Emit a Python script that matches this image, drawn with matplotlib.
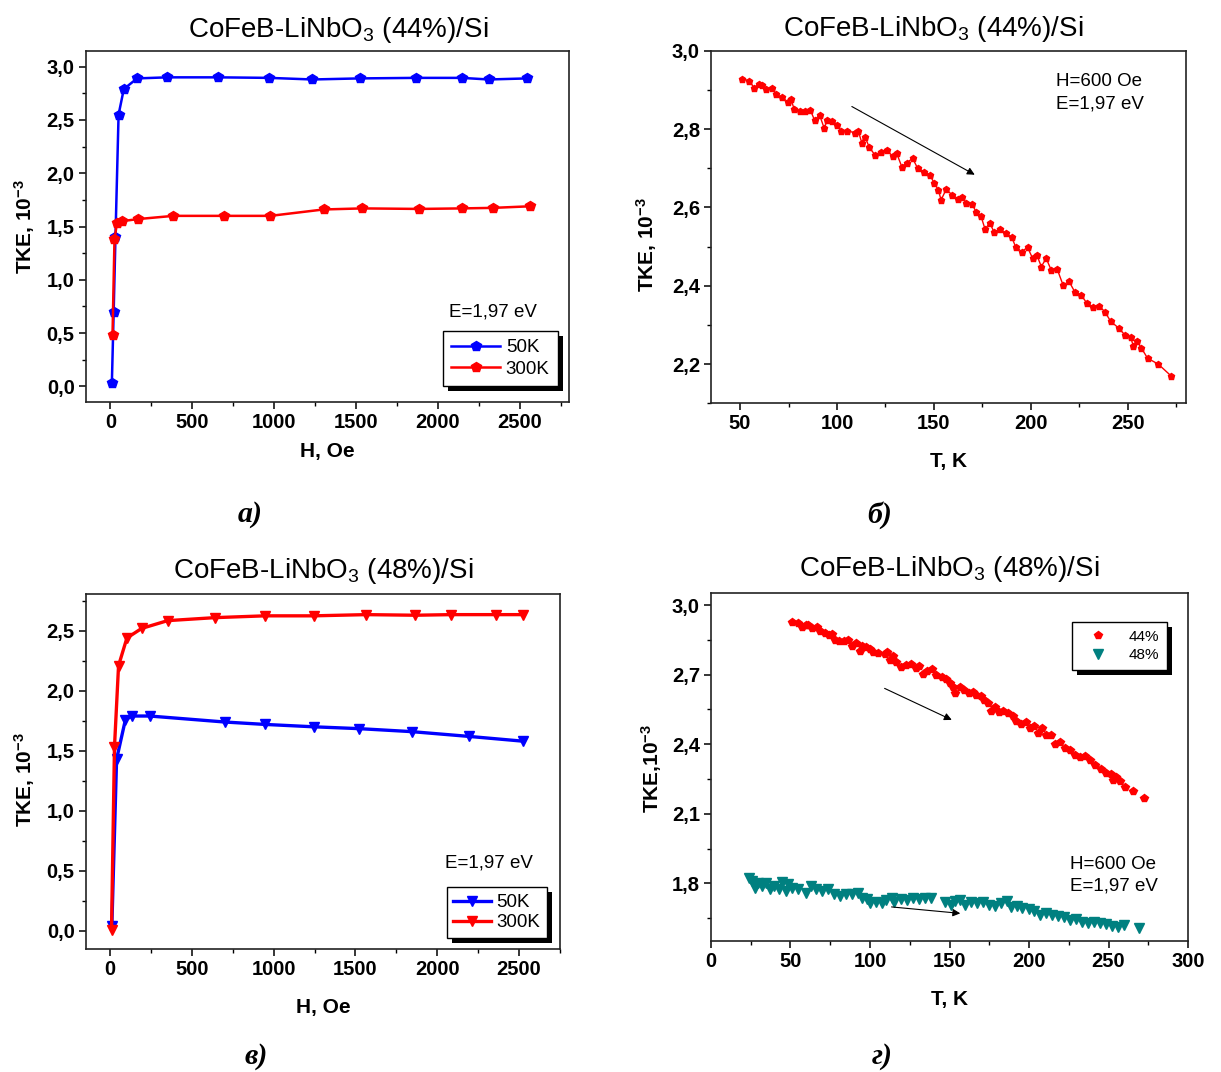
import matplotlib
matplotlib.use("Agg")
import matplotlib.pyplot as plt
from matplotlib.ticker import MultipleLocator, FuncFormatter
from matplotlib.patches import Rectangle
from matplotlib.lines import Line2D

plt.rcParams["font.family"] = ["Liberation Sans", "DejaVu Sans"]
plt.rcParams["mathtext.fontset"] = "custom"
plt.rcParams["mathtext.rm"] = "Liberation Sans"
plt.rcParams["mathtext.bf"] = "Liberation Sans:bold"
plt.rcParams["mathtext.it"] = "Liberation Sans:italic"

# --- panel a: 44%, TKE vs H ---
h_44_50k = [9, 20, 31, 50, 82, 163, 347, 660, 969, 1234, 1522, 1867, 2146, 2310, 2548]
tke_44_50k = [0.03, 0.70, 1.40, 2.55, 2.79, 2.89, 2.90, 2.90, 2.895, 2.88, 2.89, 2.895, 2.895, 2.88, 2.89]
h_44_300k = [13, 25, 40, 70, 170, 385, 692, 978, 1302, 1540, 1886, 2149, 2339, 2566]
tke_44_300k = [0.48, 1.38, 1.53, 1.55, 1.57, 1.60, 1.60, 1.60, 1.66, 1.67, 1.665, 1.67, 1.675, 1.69]

# --- panel c: 48%, TKE vs H ---
h_48_50k = [11, 40, 94, 135, 242, 702, 947, 1248, 1520, 1843, 2195, 2527]
tke_48_50k = [0.04, 1.43, 1.76, 1.79, 1.79, 1.74, 1.72, 1.70, 1.685, 1.66, 1.62, 1.58]
h_48_300k = [9, 27, 52, 103, 193, 352, 642, 947, 1244, 1565, 1867, 2085, 2357, 2527]
tke_48_300k = [0.01, 1.53, 2.21, 2.44, 2.52, 2.585, 2.61, 2.625, 2.625, 2.635, 2.63, 2.635, 2.635, 2.635]

# --- panels b, d: TKE vs T at H=600 Oe ---
t_44 = [50.8, 54.7, 57.2, 59.8, 61.2, 63.3, 66.4, 68.4, 71.5, 74.5, 76.2, 78.0, 80.7, 83.7,
        86.2, 88.4, 91.0, 93.4, 95.0, 97.6, 100.1, 102.1, 105.2, 109.3, 110.9, 112.8, 114.4,
        116.5, 119.5, 122.6, 125.7, 128.7, 130.8, 133.4, 135.9, 139.0, 141.6, 145.1, 147.8,
        150.2, 152.2, 153.7, 156.3, 159.4, 162.5, 164.5, 166.6, 169.6, 171.7, 174.3, 176.4,
        178.8, 180.9, 183.9, 187.0, 190.1, 192.1, 195.2, 198.3, 200.9, 203.0, 205.4, 207.9,
        210.5, 213.6, 216.6, 219.7, 222.8, 225.9, 228.9, 232.0, 235.1, 238.1, 241.2, 245.3,
        248.4, 251.4, 252.9, 254.5, 257.0, 260.2, 265.7, 272.3]
tke_t_44 = [2.929, 2.923, 2.906, 2.915, 2.912, 2.901, 2.906, 2.889, 2.881, 2.870, 2.876, 2.850,
            2.847, 2.847, 2.849, 2.823, 2.836, 2.802, 2.823, 2.821, 2.810, 2.796, 2.795, 2.791,
            2.796, 2.765, 2.781, 2.755, 2.734, 2.742, 2.747, 2.730, 2.738, 2.704, 2.714, 2.725,
            2.700, 2.691, 2.683, 2.662, 2.645, 2.619, 2.646, 2.632, 2.622, 2.626, 2.612, 2.609,
            2.589, 2.577, 2.544, 2.561, 2.538, 2.544, 2.534, 2.524, 2.500, 2.487, 2.498, 2.470,
            2.479, 2.449, 2.470, 2.440, 2.442, 2.402, 2.411, 2.383, 2.377, 2.355, 2.347, 2.349,
            2.334, 2.309, 2.292, 2.275, 2.270, 2.245, 2.260, 2.241, 2.215, 2.200, 2.170]

t_48 = [23.7, 25.5, 27.5, 29.5, 31.9, 34.9, 36.9, 39.9, 42.9, 44.9, 46.9, 48.7, 51.2, 54.9,
        59.9, 62.9, 66.1, 69.9, 73.6, 77.4, 81.1, 84.9, 88.6, 92.3, 94.8, 97.8, 100.3, 103.6,
        107.3, 110.3, 113.6, 115.3, 119.8, 123.5, 127.3, 131.0, 134.8, 138.5, 147.2, 151.0,
        153.5, 156.7, 159.7, 163.5, 167.2, 171.0, 174.7, 178.4, 182.2, 185.9, 188.4, 192.2,
        195.9, 199.7, 203.4, 207.1, 210.9, 214.6, 218.4, 222.1, 225.9, 229.6, 233.3, 237.1,
        240.8, 244.6, 248.3, 252.1, 255.8, 259.5, 269.0]
tke_t_48 = [1.822, 1.812, 1.782, 1.801, 1.790, 1.804, 1.775, 1.790, 1.778, 1.807, 1.768, 1.797,
            1.782, 1.778, 1.761, 1.787, 1.775, 1.768, 1.775, 1.753, 1.746, 1.753, 1.756, 1.761,
            1.739, 1.731, 1.714, 1.720, 1.717, 1.728, 1.739, 1.720, 1.734, 1.728, 1.739, 1.731,
            1.739, 1.739, 1.720, 1.709, 1.724, 1.728, 1.709, 1.720, 1.717, 1.720, 1.709, 1.705,
            1.714, 1.724, 1.699, 1.702, 1.695, 1.690, 1.680, 1.666, 1.673, 1.666, 1.661, 1.655,
            1.644, 1.647, 1.636, 1.629, 1.632, 1.629, 1.626, 1.617, 1.614, 1.622, 1.610]

BLUE = "#0000ff"
RED = "#ff0000"
TEAL = "#008080"

fig = plt.figure(figsize=(12.21, 10.72), dpi=100)
ax_a = fig.add_axes([0.0703, 0.6247, 0.3955, 0.3280])
ax_b = fig.add_axes([0.5823, 0.6238, 0.3890, 0.3289])
ax_c = fig.add_axes([0.0703, 0.1147, 0.3884, 0.3312])
ax_d = fig.add_axes([0.5823, 0.1222, 0.3907, 0.3244])

comma = FuncFormatter(lambda v, p: f"{v:.1f}".replace(".", ","))


def style(ax, xmaj, xmin, ymaj, ymin, ylab, xlab, xlab_y, ylab_x, ylab_y):
    ax.xaxis.set_major_locator(MultipleLocator(xmaj))
    ax.xaxis.set_minor_locator(MultipleLocator(xmin))
    ax.yaxis.set_major_locator(MultipleLocator(ymaj))
    ax.yaxis.set_minor_locator(MultipleLocator(ymin))
    ax.yaxis.set_major_formatter(comma)
    ax.tick_params(which="major", direction="out", length=5, width=1.1, labelsize=14.5, pad=3)
    ax.tick_params(which="minor", direction="out", length=3, width=1.0)
    for lab in ax.get_xticklabels() + ax.get_yticklabels():
        lab.set_fontweight("bold")
    for s in ax.spines.values():
        s.set_linewidth(1.2)
        s.set_color("#222222")
    ax.set_xlabel(xlab, fontsize=15, fontweight="bold")
    ax.set_ylabel(ylab, fontsize=15, fontweight="bold")
    ax.xaxis.set_label_coords(0.5, xlab_y)
    ax.xaxis.label.set_verticalalignment("center")
    ax.yaxis.set_label_coords(ylab_x, ylab_y)
    ax.yaxis.label.set_verticalalignment("center")


def shadow(ax, leg, d=5):
    fig.canvas.draw()
    bb = leg.get_frame().get_window_extent()
    inv = ax.transAxes.inverted()
    (x0, y0), (x1, y1) = inv.transform([[bb.x0 + d, bb.y0 - d], [bb.x1 + d, bb.y1 - d]])
    ax.add_patch(Rectangle((x0, y0), x1 - x0, y1 - y0, transform=ax.transAxes,
                           facecolor="black", edgecolor="none", zorder=4.9, clip_on=False))


ylab = r"TKE, 10$^{\mathbf{-3}}$"

# panel a
ax_a.plot(h_44_50k, tke_44_50k, color=BLUE, lw=1.8, marker="p", ms=7, label="50K")
ax_a.plot(h_44_300k, tke_44_300k, color=RED, lw=1.8, marker="p", ms=7, label="300K")
ax_a.set_xlim(-150, 2800)
ax_a.set_ylim(-0.15, 3.15)
style(ax_a, 500, 250, 0.5, 0.25, ylab, "H, Oe", -0.1385, -0.127, 0.5)
ax_a.set_title(r"CoFeB-LiNbO$_3$ (44%)/Si", fontsize=20, x=0.523, pad=10)
ax_a.text(2334, 0.70, "E=1,97 eV", fontsize=13.5, ha="center", va="center")
leg_a = ax_a.legend(loc="lower right", bbox_to_anchor=(0.978, 0.045), fontsize=13.5,
                    fancybox=False, edgecolor="black", framealpha=1, handlelength=2.6,
                    handletextpad=0.3, borderpad=0.45, labelspacing=0.25, borderaxespad=0)
leg_a.get_frame().set_linewidth(1.0)

# panel b
ax_b.plot(t_44, tke_t_44, color=RED, lw=1.0, marker="p", ms=5)
ax_b.set_xlim(35, 280)
ax_b.set_ylim(2.1, 3.0)
style(ax_b, 50, 25, 0.2, 0.1, ylab, "T, K", -0.1656, -0.135, 0.449)
ax_b.set_title(r"CoFeB-LiNbO$_3$ (44%)/Si", fontsize=20, x=0.467, pad=10.5)
ax_b.annotate("", xy=(172.3, 2.680), xytext=(106.4, 2.861),
              arrowprops=dict(arrowstyle="-|>", color="black", lw=0.8, mutation_scale=11))
ax_b.text(213, 2.921, "H=600 Oe", fontsize=13.5, ha="left", va="center")
ax_b.text(213, 2.863, "E=1,97 eV", fontsize=13.5, ha="left", va="center")

# panel c
ax_c.plot(h_48_50k, tke_48_50k, color=BLUE, lw=2.4, marker="v", ms=7, label="50K")
ax_c.plot(h_48_300k, tke_48_300k, color=RED, lw=2.4, marker="v", ms=7, label="300K")
ax_c.set_xlim(-148, 2751)
ax_c.set_ylim(-0.152, 2.807)
style(ax_c, 500, 250, 0.5, 0.25, ylab, "H, Oe", -0.1656, -0.130, 0.477)
ax_c.set_title(r"CoFeB-LiNbO$_3$ (48%)/Si", fontsize=20, x=0.5, pad=11.5)
ax_c.text(2314, 0.565, "E=1,97 eV", fontsize=13.5, ha="center", va="center")
leg_c = ax_c.legend(loc="lower right", bbox_to_anchor=(0.972, 0.032), fontsize=13.5,
                    fancybox=False, edgecolor="black", framealpha=1, handlelength=2.0,
                    handletextpad=0.3, borderpad=0.35, labelspacing=0.15, borderaxespad=0)
leg_c.get_frame().set_linewidth(1.0)

# panel d
ax_d.plot(t_44, tke_t_44, color=RED, lw=0, marker="p", ms=5.5, label="44%")
ax_d.plot(t_48, tke_t_48, color=TEAL, lw=0, marker="v", ms=6.5, label="48%")
ax_d.set_xlim(0, 300)
ax_d.set_ylim(1.552, 3.051)
style(ax_d, 50, 25, 0.3, 0.15, r"TKE,10$^{\mathbf{-3}}$", "T, K", -0.1676, -0.125, 0.497)
ax_d.set_title(r"CoFeB-LiNbO$_3$ (48%)/Si", fontsize=20, x=0.5, pad=12.5)
ax_d.annotate("", xy=(153, 2.50), xytext=(107.6, 2.646),
              arrowprops=dict(arrowstyle="-|>", color="black", lw=0.8, mutation_scale=11))
ax_d.annotate("", xy=(158.5, 1.67), xytext=(111.8, 1.70),
              arrowprops=dict(arrowstyle="-|>", color="black", lw=0.8, mutation_scale=11))
ax_d.text(226, 1.881, "H=600 Oe", fontsize=13.5, ha="left", va="center")
ax_d.text(226, 1.79, "E=1,97 eV", fontsize=13.5, ha="left", va="center")
handles_d = [Line2D([], [], color=RED, lw=0, marker="p", ms=5.5),
             Line2D([], [], color=TEAL, lw=0, marker="v", ms=6.5)]
leg_d = ax_d.legend(handles_d, ["44%", "48%"], loc="upper right", bbox_to_anchor=(0.955, 0.917),
                    fontsize=11, fancybox=False, edgecolor="black", framealpha=1,
                    handlelength=2.4, handletextpad=0.8, borderpad=0.5, labelspacing=0.3,
                    numpoints=1, borderaxespad=0)
leg_d.get_frame().set_linewidth(1.0)

# subplot letters
serif = dict(family=["Liberation Serif", "DejaVu Serif"], fontsize=21.5,
             fontweight="bold", style="italic", ha="center", va="center")
fig.text(250 / 1221, 1 - 515 / 1072, "а)", **serif)
fig.text(880 / 1221, 1 - 515 / 1072, "б)", **serif)
fig.text(256 / 1221, 1 - 1057 / 1072, "в)", **serif)
fig.text(882 / 1221, 1 - 1056 / 1072, "г)", **serif)

shadow(ax_a, leg_a)
shadow(ax_c, leg_c)
shadow(ax_d, leg_d)

fig.savefig("out.png", dpi=100)
